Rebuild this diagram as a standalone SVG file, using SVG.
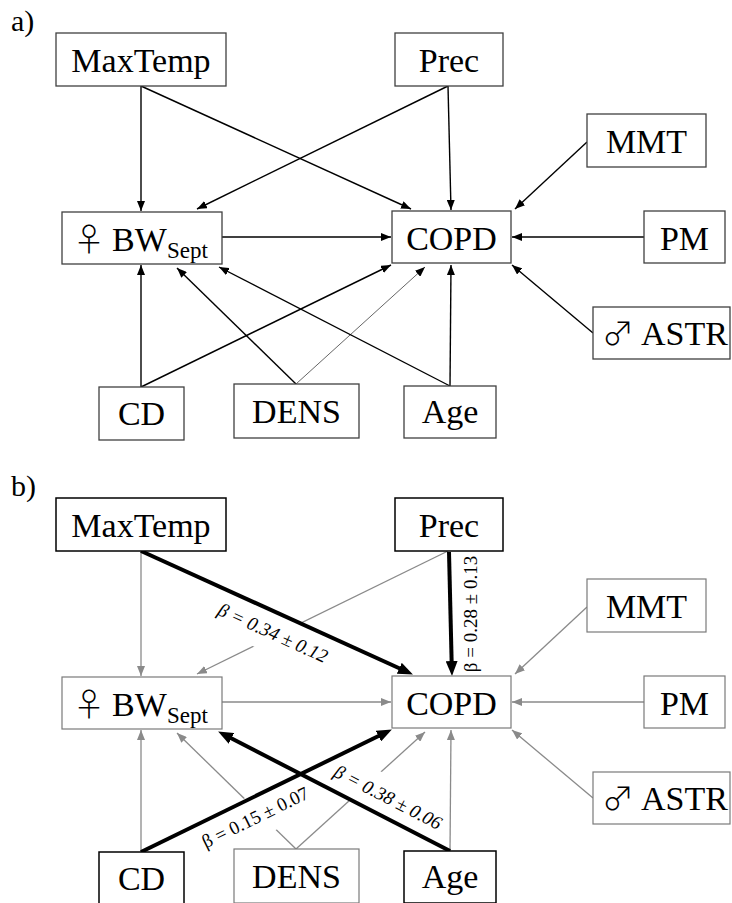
<svg xmlns="http://www.w3.org/2000/svg" width="732" height="903" viewBox="0 0 732 903">
<style>
.bg{fill:#fff}
.box{fill:#fff;stroke:#404040;stroke-width:1.3}
.boxk{fill:#fff;stroke:#000;stroke-width:1.5}
.boxg{fill:#fff;stroke:#7a7a7a;stroke-width:1.2}
.t{font-family:"Liberation Serif","Times New Roman",serif;font-size:34px;fill:#000;text-anchor:middle}
.ts{font-family:"Liberation Serif","Times New Roman",serif;font-size:34px;fill:#000}
.sym{font-family:"Noto Sans CJK JP","DejaVu Sans",sans-serif;font-weight:300;font-size:32px}
.sub{font-size:23px}
.pl{font-family:"Liberation Serif","Times New Roman",serif;font-size:30px;fill:#000}
.ea{stroke:#000;stroke-width:1.4;fill:none;marker-end:url(#arrA)}
.eaw{stroke:#555;stroke-width:0.9;fill:none;marker-end:url(#arrA)}
.eg{stroke:#8a8a8a;stroke-width:1.3;fill:none;marker-end:url(#arrG)}
.ek{stroke:#000;stroke-width:4;fill:none;marker-end:url(#arrT)}
.lab{font-family:"Liberation Serif","Times New Roman",serif;font-size:19px;fill:#000;text-anchor:middle}
.it{font-style:italic}
</style>
<defs>
<marker id="arrA" markerUnits="userSpaceOnUse" markerWidth="10" markerHeight="8" refX="10" refY="4" orient="auto"><path d="M0,0 L10,4 L0,8 z" fill="#000"/></marker>
<marker id="arrG" markerUnits="userSpaceOnUse" markerWidth="10" markerHeight="8" refX="10" refY="4" orient="auto"><path d="M0,0 L10,4 L0,8 z" fill="#8a8a8a"/></marker>
<marker id="arrT" markerUnits="userSpaceOnUse" markerWidth="15" markerHeight="12" refX="3" refY="6" orient="auto"><path d="M0,0 L15,6 L0,12 z" fill="#000"/></marker>
</defs>
<rect class="bg" x="0" y="0" width="732" height="903"/>
<text class="pl" x="11" y="31">a)</text>
<text class="pl" x="11" y="496">b)</text>

<g id="connectors">
<g id="edges-a">
<path class="ea" d="M141,86 L141,211"/>
<path class="ea" d="M141,86 L411,209"/>
<path class="ea" d="M448,86 L197,209"/>
<path class="ea" d="M448,86 L451,210"/>
<path class="ea" d="M587,142 L515,209"/>
<path class="ea" d="M222,237 L391,237"/>
<path class="ea" d="M644,237 L512,237"/>
<path class="ea" d="M593,333 L512,265"/>
<path class="ea" d="M141,387 L141,265"/>
<path class="ea" d="M141,387 L391,265"/>
<path class="ea" d="M296,384 L177,268"/>
<path class="eaw" d="M296,384 L425,267"/>
<path class="ea" d="M450,386 L451,265"/>
<path class="ea" d="M450,386 L219,267"/>
</g>
<g id="edges-b">
<path class="eg" d="M141,551 L141,676"/>
<path class="eg" d="M448,551 L197,674"/>
<path class="eg" d="M587,607 L515,674"/>
<path class="eg" d="M222,702 L391,702"/>
<path class="eg" d="M644,702 L512,702"/>
<path class="eg" d="M593,798 L512,730"/>
<path class="eg" d="M141,852 L141,730"/>
<path class="eg" d="M296,849 L177,733"/>
<path class="eg" d="M296,849 L425,732"/>
<path class="eg" d="M450,851 L451,730"/>
<g transform="translate(273.3,632.4) rotate(24.4)"><rect class="bg" x="-62" y="-20" width="124" height="41"/><text class="lab it" x="0" y="7">β = 0.34 ± 0.12</text></g>
<g transform="translate(255,816.7) rotate(-26)"><rect class="bg" x="-60" y="-21" width="120" height="42"/><text class="lab" x="0" y="7">β = 0.15 ± 0.07</text></g>
<g transform="translate(388.3,796.7) rotate(27.3)"><rect class="bg" x="-57" y="-19" width="114" height="41"/><text class="lab it" x="0" y="7">β = 0.38 ± 0.06</text></g>
<g transform="translate(470,614) rotate(-90)"><text class="lab" x="0" y="7">β = 0.28 ± 0.13</text></g>
<path class="ek" d="M141,551 L402,669.5"/>
<path class="ek" d="M449,552 L451.7,664"/>
<path class="ek" d="M141,852 L381.1,734.8"/>
<path class="ek" d="M450,851 L228.8,737"/>
</g>
</g>

<g id="maxtemp-a"><rect class="box" x="56" y="33" width="170" height="53"/><text class="t" x="141" y="72">MaxTemp</text></g>
<g id="prec-a"><rect class="box" x="395" y="33" width="108" height="53"/><text class="t" x="449" y="72">Prec</text></g>
<g id="mmt-a"><rect class="box" x="587" y="114" width="119" height="53"/><text class="t" x="646.5" y="153">MMT</text></g>
<g id="bw-a"><rect class="box" x="62" y="212" width="160" height="52"/><text class="ts" y="251"><tspan class="sym" x="73">♀</tspan><tspan x="112">BW</tspan><tspan class="sub" x="167" dy="7">Sept</tspan></text></g>
<g id="copd-a"><rect class="box" x="392" y="211" width="119" height="52"/><text class="t" x="451.5" y="250">COPD</text></g>
<g id="pm-a"><rect class="box" x="644" y="211" width="81" height="52"/><text class="t" x="684.5" y="250">PM</text></g>
<g id="astr-a"><rect class="box" x="593" y="307" width="137" height="52"/><text class="ts" y="345"><tspan class="sym" x="602">♂</tspan><tspan x="641">ASTR</tspan></text></g>
<g id="cd-a"><rect class="box" x="99" y="387" width="85" height="53"/><text class="t" x="141.5" y="425">CD</text></g>
<g id="dens-a"><rect class="box" x="234" y="384" width="125" height="54"/><text class="t" x="296.5" y="423">DENS</text></g>
<g id="age-a"><rect class="box" x="404" y="386" width="92" height="52"/><text class="t" x="450" y="423">Age</text></g>

<g id="maxtemp-b"><rect class="boxk" x="56" y="498" width="170" height="53"/><text class="t" x="141" y="537">MaxTemp</text></g>
<g id="prec-b"><rect class="boxk" x="395" y="498" width="108" height="53"/><text class="t" x="449" y="537">Prec</text></g>
<g id="mmt-b"><rect class="boxg" x="587" y="579" width="119" height="53"/><text class="t" x="646.5" y="618">MMT</text></g>
<g id="bw-b"><rect class="boxg" x="62" y="677" width="160" height="52"/><text class="ts" y="716"><tspan class="sym" x="73">♀</tspan><tspan x="112">BW</tspan><tspan class="sub" x="167" dy="7">Sept</tspan></text></g>
<g id="copd-b"><rect class="boxg" x="392" y="676" width="119" height="52"/><text class="t" x="451.5" y="715">COPD</text></g>
<g id="pm-b"><rect class="boxg" x="644" y="676" width="81" height="52"/><text class="t" x="684.5" y="715">PM</text></g>
<g id="astr-b"><rect class="boxg" x="593" y="772" width="137" height="52"/><text class="ts" y="810"><tspan class="sym" x="602">♂</tspan><tspan x="641">ASTR</tspan></text></g>
<g id="cd-b"><rect class="boxk" x="99" y="852" width="85" height="53"/><text class="t" x="141.5" y="890">CD</text></g>
<g id="dens-b"><rect class="boxg" x="234" y="849" width="125" height="54"/><text class="t" x="296.5" y="888">DENS</text></g>
<g id="age-b"><rect class="boxk" x="404" y="851" width="92" height="52"/><text class="t" x="450" y="888">Age</text></g>
</svg>
